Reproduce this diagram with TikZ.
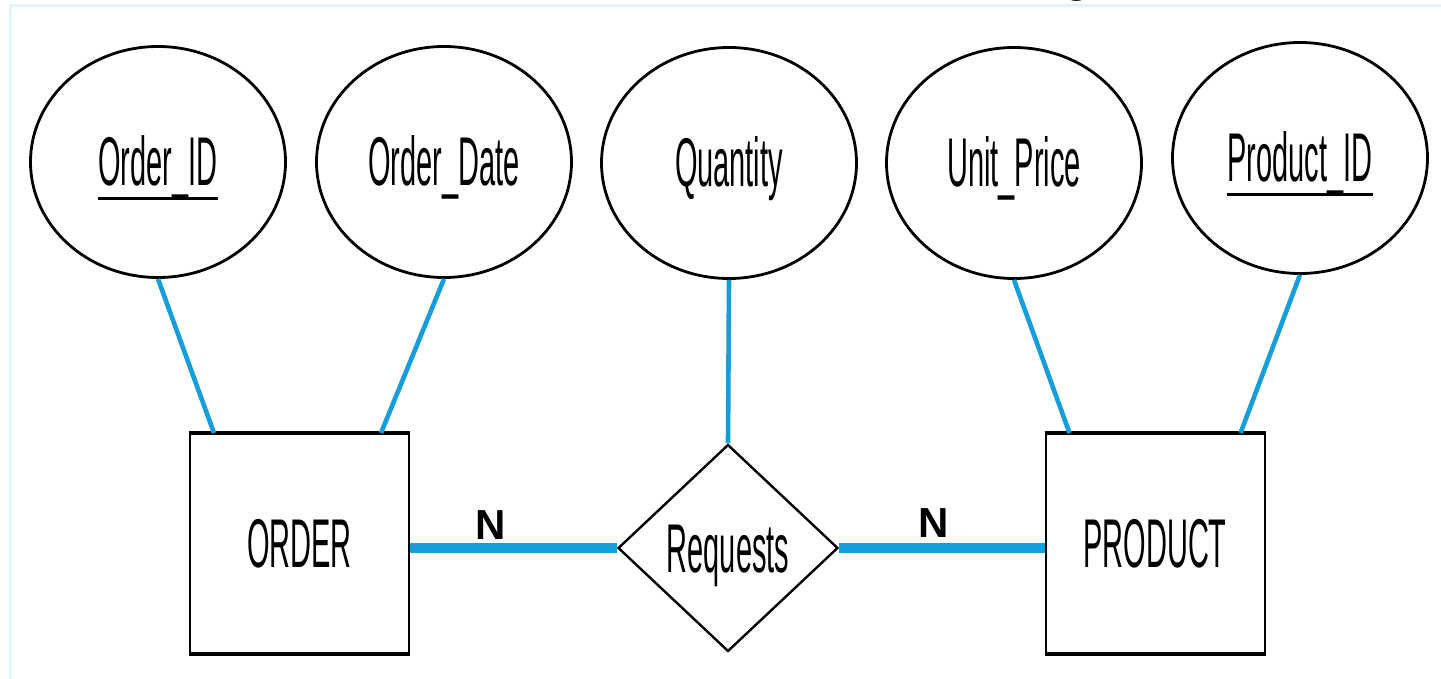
\documentclass[tikz,border=0pt]{standalone}
\usepackage{fontspec}
\setmainfont{Liberation Sans}
\newfontfamily\condfont[FakeStretch=0.42]{Liberation Sans}
\usetikzlibrary{shapes.geometric}
\definecolor{erblue}{RGB}{22,158,218}
\definecolor{framebg}{RGB}{226,243,251}

\begin{document}
\begin{tikzpicture}[x=1pt,y=-1pt,
  lbl/.style={font=\condfont\fontsize{69}{69}\selectfont, text height=48pt, text depth=0pt},
  attr/.style={ellipse, draw, line width=2.8pt, minimum width=255pt, minimum height=231pt, inner sep=0pt, lbl},
  entity/.style={rectangle, draw, line width=2pt, minimum width=219pt, minimum height=219pt, inner sep=0pt, lbl},
  relship/.style={diamond, draw, line width=2.4pt, minimum width=220pt, minimum height=207pt, inner sep=0pt, lbl},
  link/.style={erblue, line width=4.6pt},
  cardlink/.style={erblue, line width=9.5pt},
  cardlbl/.style={font=\bfseries\fontsize{42}{42}\selectfont, inner sep=0pt},
  keytext/.style={lbl, inner sep=0pt},
  keyline/.style={line width=3pt},
  edge/.style={line width=4.5pt},
]
\useasboundingbox (0,0) rectangle (1441,679);
\fill[white] (0,0) rectangle (1441,679);
\draw[framebg, line width=3pt] (10,679) -- (10,6) -- (1441,6);

% descender of a heading letter above the frame
\node[cardlbl, anchor=base] (gfrag) at (1077,-7) {g};

% attributes
\node[attr] (oid) at (158,162) {};
\node[keytext] (oidt) at (oid.center) {Order\_ID};
\node[attr] (odate) at (444,162) {Order\_Date};
\node[attr] (qty) at (729,163) {Quantity};
\node[attr] (uprice) at (1014,163) {Unit\_Price};
\node[attr] (pid) at (1300,158) {};
\node[keytext] (pidt) at (pid.center) {Product\_ID};

% key underlines
\draw[keyline] ([yshift=-13pt]oidt.base west) -- ([yshift=-13pt]oidt.base east);
\draw[keyline] ([yshift=-13pt]pidt.base west) -- ([yshift=-13pt]pidt.base east);

% entities and relationship
\node[entity] (order) at (299.5,543.5) {ORDER};
\node[entity] (product) at (1155,543.5) {PRODUCT};
\node[relship] (req) at (728,548) {Requests};

% heavier top and bottom edges of the entity boxes
\draw[edge] (order.north west) -- (order.north east);
\draw[edge] (order.south west) -- (order.south east);
\draw[edge] (product.north west) -- (product.north east);
\draw[edge] (product.south west) -- (product.south east);

% attribute connectors
\draw[link] (oid.south) -- ([xshift=25pt]order.north west);
\draw[link] (odate.south) -- ([xshift=-29pt]order.north east);
\draw[link] (qty.south) -- (req.north);
\draw[link] (uprice.south) -- ([xshift=25pt]product.north west);
\draw[link] (pid.south) -- ([xshift=-25pt]product.north east);

% relationship connectors with cardinalities
\draw[cardlink] (order.east |- req.west) -- (req.west);
\draw[cardlink] (req.east) -- (product.west |- req.east);
\node[cardlbl] (n1) at (491,525) {N};
\node[cardlbl] (n2) at (934,523) {N};
\end{tikzpicture}
\end{document}
